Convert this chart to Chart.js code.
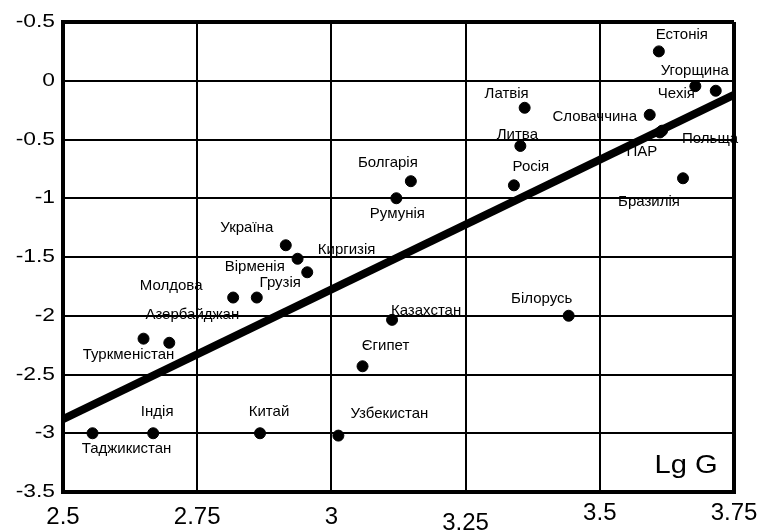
<!DOCTYPE html>
<html>
<head>
<meta charset="utf-8">
<script src="https://cdn.jsdelivr.net/npm/chart.js@4.4.1/dist/chart.umd.min.js"></script>
<style>
  html, body { margin: 0; padding: 0; background: #fff; }
  #wrap { width: 758px; height: 530px; }
</style>
</head>
<body>
<div id="wrap"><canvas id="c" width="758" height="530"></canvas></div>
<script>
// Countries and their coordinates (Lg G on the x axis)
const countries = [
  'Естонія', 'Угорщина', 'Чехія', 'Латвія', 'Словаччина', 'Польща', 'ПАР',
  'Литва', 'Бразилія', 'Росія', 'Болгарія', 'Румунія', 'Україна', 'Киргизія',
  'Грузія', 'Вірменія', 'Молдова', 'Азербайджан', 'Туркменістан',
  'Таджикистан', 'Індія', 'Китай', 'Узбекистан', 'Єгипет', 'Казахстан', 'Білорусь'
];
const lgG = [
  3.610, 3.716, 3.678, 3.360, 3.593, 3.616, 3.612,
  3.352, 3.655, 3.340, 3.148, 3.121, 2.915, 2.937,
  2.955, 2.861, 2.817, 2.698, 2.650,
  2.555, 2.668, 2.867, 3.013, 3.058, 3.113, 3.442
];
const yValues = [
  0.25, -0.085, -0.046, -0.23, -0.29, -0.425, -0.44,
  -0.555, -0.83, -0.89, -0.855, -1.00, -1.40, -1.515,
  -1.63, -1.845, -1.845, -2.23, -2.195,
  -3.00, -3.00, -3.00, -3.02, -2.43, -2.035, -2.00
];

// Trend line end points
const trendX = [2.5, 3.75];
const trendY = [-2.88, -0.12];

// Axis ticks
const xTickValues = [2.5, 2.75, 3, 3.25, 3.5, 3.75];
const xTickLabels = ['2.5', '2.75', '3', '3.25', '3.5', '3.75'];
const yTickValues = [0.5, 0, -0.5, -1, -1.5, -2, -2.5, -3, -3.5];
const yTickLabels = ['-0.5', '0', '-0.5', '-1', '-1.5', '-2', '-2.5', '-3', '-3.5'];

// Label placement relative to each point (pixels, text centre)
const labelOffsets = {
  'Естонія': [23, -17], 'Угорщина': [-21, -20], 'Чехія': [-19, 8],
  'Латвія': [-18, -14], 'Словаччина': [-55, 2], 'Польща': [48, 8],
  'ПАР': [-18, 19], 'Литва': [-3, -11], 'Бразилія': [-34, 24],
  'Росія': [17, -18], 'Болгарія': [-23, -18], 'Румунія': [1, 16],
  'Україна': [-39, -17], 'Киргизія': [49, -9], 'Грузія': [-27, 11],
  'Вірменія': [-2, -31], 'Молдова': [-62, -12], 'Азербайджан': [23, -28],
  'Туркменістан': [-15, 16], 'Таджикистан': [34, 16], 'Індія': [4, -21],
  'Китай': [9, -21], 'Узбекистан': [51, -22], 'Єгипет': [23, -20],
  'Казахстан': [34, -9], 'Білорусь': [-27, -17]
};
const xLabelShift = [0, 0, 0, 6, -4, -4];

const FONT = '"Liberation Sans", Arial, sans-serif';

const points = countries.map((name, i) => ({ x: lgG[i], y: yValues[i], name }));
const trend = trendX.map((x, i) => ({ x, y: trendY[i] }));

function drawScaled(ctx, text, x, y, sx, align) {
  ctx.save();
  ctx.translate(x, y);
  ctx.scale(sx, 1);
  ctx.textAlign = align;
  ctx.fillText(text, 0, 0);
  ctx.restore();
}

const annotate = {
  id: 'annotate',
  afterDraw(chart) {
    const ctx = chart.ctx;
    const xs = chart.scales.x, ys = chart.scales.y;
    const area = chart.chartArea;
    ctx.save();
    ctx.fillStyle = '#000';
    ctx.textBaseline = 'middle';

    // country names
    ctx.font = '15px ' + FONT;
    const meta = chart.getDatasetMeta(1);
    meta.data.forEach((el, i) => {
      const off = labelOffsets[countries[i]] || [0, -14];
      drawScaled(ctx, countries[i], el.x + off[0], el.y + off[1], 1.0, 'center');
    });

    // y tick labels
    ctx.font = '19px ' + FONT;
    yTickValues.forEach((v, i) => {
      const py = ys.getPixelForValue(v);
      drawScaled(ctx, yTickLabels[i], area.left - 8, py, 1.2, 'right');
    });

    // x tick labels
    ctx.font = '24px ' + FONT;
    xTickValues.forEach((v, i) => {
      const px = xs.getPixelForValue(v);
      drawScaled(ctx, xTickLabels[i], px, area.bottom + 25 + xLabelShift[i], 1.0, 'center');
    });

    // axis caption inside the plot
    ctx.font = '26px ' + FONT;
    drawScaled(ctx, 'Lg G', area.right - 48, area.bottom - 26, 1.12, 'center');
    ctx.restore();
  }
};

const edgeWidth = (min, max) => (c) => {
  const v = c.tick && c.tick.value;
  return (v === min || v === max) ? 4 : 2;
};

new Chart(document.getElementById('c'), {
  type: 'scatter',
  data: {
    datasets: [
      {
        type: 'line',
        data: trend,
        borderColor: '#000',
        borderWidth: 8,
        pointRadius: 0,
        fill: false,
        tension: 0,
        order: 2
      },
      {
        data: points,
        backgroundColor: '#000',
        borderColor: '#000',
        pointRadius: 5.5,
        pointHoverRadius: 5.5,
        order: 1
      }
    ]
  },
  options: {
    responsive: false,
    animation: false,
    events: [],
    layout: { padding: { top: 22, right: 24, left: 0, bottom: 0 } },
    plugins: { legend: { display: false }, tooltip: { enabled: false } },
    scales: {
      x: {
        type: 'linear',
        min: 2.5, max: 3.75,
        ticks: { display: false, stepSize: 0.25 },
        grid: { color: '#000', lineWidth: edgeWidth(2.5, 3.75), drawTicks: false },
        border: { display: true, color: '#000', width: 4 },
        afterFit(scale) { scale.height = 38; }
      },
      y: {
        type: 'linear',
        min: -3.5, max: 0.5,
        ticks: { display: false, stepSize: 0.5 },
        grid: { color: '#000', lineWidth: edgeWidth(-3.5, 0.5), drawTicks: false },
        border: { display: true, color: '#000', width: 4 },
        afterFit(scale) { scale.width = 63; }
      }
    }
  },
  plugins: [annotate]
});
</script>
</body>
</html>
